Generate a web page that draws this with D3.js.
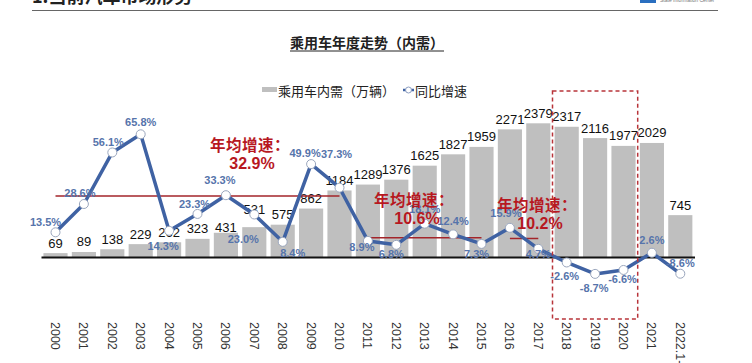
<!DOCTYPE html>
<html>
<head>
<meta charset="utf-8">
<script src="https://cdn.jsdelivr.net/npm/d3@7"></script>
<style>
  body { margin: 0; background: #fff; }
  svg { display: block; }
</style>
</head>
<body>
<svg id="chart" width="752" height="363"></svg>
<script>
// passenger car domestic demand (10k units) and yoy growth (%)
const years = ['2000', '2001', '2002', '2003', '2004', '2005', '2006', '2007', '2008', '2009', '2010',
    '2011', '2012', '2013', '2014', '2015', '2016', '2017', '2018', '2019', '2020', '2021', '2022.1-4'];
const sales = [69, 89, 138, 229, 262, 323, 431, 531, 575, 862, 1184,
    1289, 1376, 1625, 1827, 1959, 2271, 2379, 2317, 2116, 1977, 2029, 745];
const growth = [13.5, 28.6, 56.1, 65.8, 14.3, 23.3, 33.3, 23.0, 8.4, 49.9, 37.3,
    8.9, 6.8, 18.1, 12.4, 7.3, 15.9, 4.7, -2.6, -8.7, -6.6, 2.6, -8.6];
// average growth periods
const avgFrom = ['2000', '2011', '2016'];
const avgTo = ['2010', '2015', '2017'];
const avgRate = [32.9, 10.6, 10.2];
const highlightFrom = '2018';
const highlightTo = '2020';

// label nudges (layout only)
const pctNudge = [[-10, -10], [-4, -11], [-4, -10], [0, -12], [-6, 15], [-3, -10], [-6, -15], [-11, 25],
    [10, 11], [-6, -11], [-3, -34], [-6, 6], [-5, 9], [0, -15], [0, -13], [-5, 10], [-4, -15],
    [0, 5], [-2, 14], [-1, 14], [-1, 9], [0, -13], [0, -11]];
const valueNudge = { '431': 4.5, '531': -8 };
const avgTextPos = [[250, 145, 252, 163], [414, 200, 417, 218], [537, 205, 540, 223]];

const cjk = '"Noto Sans CJK SC", "Noto Sans", sans-serif';
const num = '"Liberation Sans", Arial, sans-serif';
const red = '#b7181f';
const blue = '#3f62a3';

const svg = d3.select('#chart');

// page header (cut off at top)
svg.append('text')
    .attr('x', 32)
    .attr('y', 3)
    .attr('font-family', cjk)
    .attr('font-weight', 'bold')
    .attr('font-size', 18)
    .attr('fill', '#222')
    .text('1.当前汽车市场形势');

svg.append('line')
    .attr('x1', 32).attr('x2', 718)
    .attr('y1', 10.5).attr('y2', 10.5)
    .attr('stroke', '#666')
    .attr('stroke-width', 1);

svg.append('rect')
    .attr('x', 640).attr('y', -2)
    .attr('width', 16).attr('height', 5)
    .attr('fill', '#2a6fc0');
svg.append('text')
    .attr('x', 660).attr('y', 2)
    .attr('font-family', num)
    .attr('font-size', 5)
    .attr('fill', '#777')
    .text('State Information Center');

// title
svg.append('text')
    .attr('x', 367)
    .attr('y', 48)
    .attr('text-anchor', 'middle')
    .attr('font-family', cjk)
    .attr('font-weight', 'bold')
    .attr('font-size', 14)
    .attr('fill', '#222')
    .text('乘用车年度走势（内需）');
svg.append('line')
    .attr('x1', 290).attr('x2', 444)
    .attr('y1', 51).attr('y2', 51)
    .attr('stroke', '#222')
    .attr('stroke-width', 1);

// legend
svg.append('rect')
    .attr('x', 262).attr('y', 87)
    .attr('width', 15).attr('height', 5)
    .attr('fill', '#bfbfbf');
svg.append('text')
    .attr('x', 278).attr('y', 95.5)
    .attr('font-family', cjk)
    .attr('font-size', 13)
    .attr('fill', '#222')
    .text('乘用车内需（万辆）');
svg.append('line')
    .attr('x1', 403).attr('x2', 414)
    .attr('y1', 90).attr('y2', 90)
    .attr('stroke', blue)
    .attr('stroke-width', 2.5);
svg.append('circle')
    .attr('cx', 408.5).attr('cy', 90).attr('r', 3)
    .attr('fill', '#fff')
    .attr('stroke', '#8a9cc0')
    .attr('stroke-width', 1);
svg.append('text')
    .attr('x', 415).attr('y', 95.5)
    .attr('font-family', cjk)
    .attr('font-size', 13)
    .attr('fill', '#222')
    .text('同比增速');

// scales
const x = d3.scaleBand()
    .domain(years)
    .range([41.3, 694.5])
    .paddingInner(0.15)
    .paddingOuter(0.075);
const bw = x.bandwidth();
const cx = d => x(d) + bw / 2;

const y = d3.scaleLinear()
    .domain([0, 2400])
    .range([257, 257 - 2400 * 0.0562]);

const yPct = d3.scaleLinear()
    .domain([-10, 70])
    .range([257.6 + 10 * 1.874, 257.6 - 70 * 1.874]);

const rows = years.map((yr, i) => ({ year: yr, sales: sales[i], growth: growth[i], i: i }));

// bars
svg.append('g')
    .selectAll('rect')
    .data(rows)
    .enter()
    .append('rect')
    .attr('x', d => x(d.year))
    .attr('y', d => y(d.sales))
    .attr('width', bw)
    .attr('height', d => y(0) - y(d.sales))
    .attr('fill', '#bfbfbf');

svg.append('g')
    .selectAll('text')
    .data(rows)
    .enter()
    .append('text')
    .attr('x', d => cx(d.year))
    .attr('y', d => y(d.sales) - 5.5 + (valueNudge[d.sales] || 0))
    .attr('text-anchor', 'middle')
    .attr('font-family', num)
    .attr('font-size', 13)
    .attr('fill', '#111')
    .text(d => d.sales);

// average growth lines
avgRate.forEach((r, k) => {
    svg.append('line')
        .attr('x1', cx(avgFrom[k]))
        .attr('x2', cx(avgTo[k]))
        .attr('y1', yPct(r))
        .attr('y2', yPct(r))
        .attr('stroke', '#a3252a')
        .attr('stroke-width', 1.5);
});

// axis baseline
svg.append('line')
    .attr('x1', 41.5).attr('x2', 695)
    .attr('y1', 257.5).attr('y2', 257.5)
    .attr('stroke', '#111')
    .attr('stroke-width', 2);

// growth line
const line = d3.line()
    .x(d => cx(d.year))
    .y(d => yPct(d.growth));

svg.append('path')
    .datum(rows)
    .attr('d', line)
    .attr('fill', 'none')
    .attr('stroke', blue)
    .attr('stroke-width', 3.5)
    .attr('stroke-linejoin', 'round');

svg.append('g')
    .selectAll('circle')
    .data(rows)
    .enter()
    .append('circle')
    .attr('cx', d => cx(d.year))
    .attr('cy', d => yPct(d.growth))
    .attr('r', 4.5)
    .attr('fill', '#fff')
    .attr('stroke', '#9aa6bd')
    .attr('stroke-width', 1);

svg.append('g')
    .selectAll('text')
    .data(rows)
    .enter()
    .append('text')
    .attr('x', d => cx(d.year) + pctNudge[d.i][0])
    .attr('y', d => yPct(d.growth) + pctNudge[d.i][1])
    .attr('dy', '0.36em')
    .attr('text-anchor', 'middle')
    .attr('font-family', num)
    .attr('font-weight', 'bold')
    .attr('font-size', 11)
    .attr('fill', '#5674ab')
    .text(d => d.growth.toFixed(1) + '%');

// average growth annotations
avgRate.forEach((r, k) => {
    const p = avgTextPos[k];
    svg.append('text')
        .attr('x', p[0]).attr('y', p[1])
        .attr('dy', '0.36em')
        .attr('text-anchor', 'middle')
        .attr('font-family', cjk)
        .attr('font-weight', 'bold')
        .attr('font-size', 15.5)
        .attr('letter-spacing', 0.5)
        .attr('fill', red)
        .text('年均增速：');
    svg.append('text')
        .attr('x', p[2]).attr('y', p[3])
        .attr('dy', '0.36em')
        .attr('text-anchor', 'middle')
        .attr('font-family', num)
        .attr('font-weight', 'bold')
        .attr('font-size', 16)
        .attr('fill', red)
        .text(r.toFixed(1) + '%');
});

// highlighted period
const gap = x.step() - bw;
svg.append('rect')
    .attr('x', x(highlightFrom) - gap / 2)
    .attr('y', 91)
    .attr('width', x(highlightTo) + bw + gap / 2 - (x(highlightFrom) - gap / 2))
    .attr('height', 228)
    .attr('fill', 'none')
    .attr('stroke', '#b8343a')
    .attr('stroke-width', 1.5)
    .attr('stroke-dasharray', '4,3');

// year labels, rotated
svg.append('g')
    .selectAll('text')
    .data(years)
    .enter()
    .append('text')
    .attr('transform', d => `translate(${cx(d)}, 322) rotate(90)`)
    .attr('dy', '0.36em')
    .attr('font-family', num)
    .attr('font-size', 12.5)
    .attr('fill', '#333')
    .text(d => d);
</script>
</body>
</html>
